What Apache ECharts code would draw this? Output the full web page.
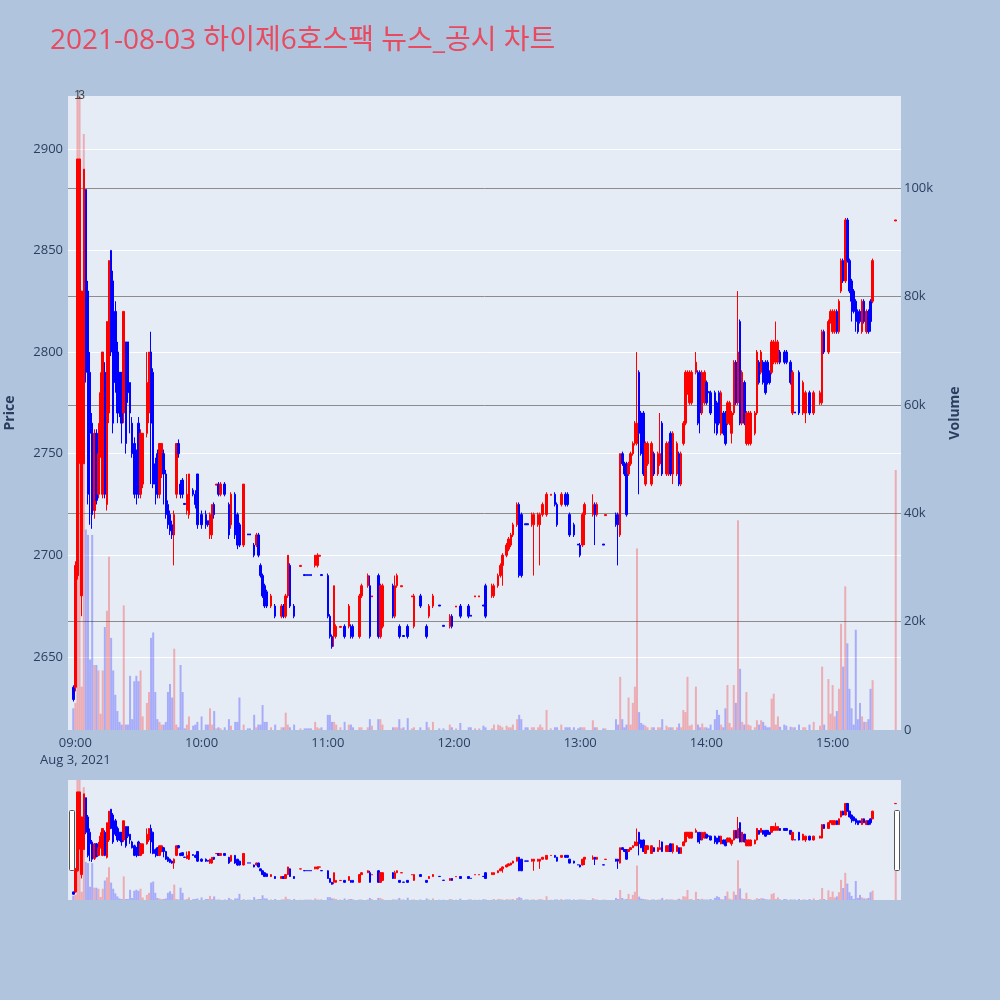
<!DOCTYPE html>
<html><head><meta charset="utf-8">
<script src="https://cdn.jsdelivr.net/npm/echarts@6/dist/echarts.min.js"></script>
<style>html,body{margin:0;padding:0;background:#b0c4de;}#c{width:1000px;height:1000px;}</style>
</head><body><div id="c"></div>
<script>
const times = [
'08:59','09:00','09:01','09:02','09:03','09:04','09:05','09:06','09:07','09:08',
'09:09','09:10','09:11','09:12','09:13','09:14','09:15','09:16','09:17','09:18',
'09:19','09:20','09:21','09:22','09:23','09:24','09:25','09:26','09:27','09:28',
'09:29','09:30','09:31','09:32','09:34','09:35','09:36','09:37','09:38','09:39',
'09:40','09:41','09:42','09:43','09:44','09:45','09:46','09:47','09:48','09:49',
'09:50','09:51','09:52','09:53','09:54','09:56','09:57','09:58','10:00','10:02',
'10:03','10:04','10:05','10:06','10:07','10:08','10:09','10:11','10:13','10:14',
'10:16','10:17','10:18','10:20','10:22','10:23','10:25','10:26','10:27','10:28',
'10:29','10:30','10:31','10:33','10:35','10:38','10:39','10:40','10:41','10:42',
'10:44','10:47','10:49','10:50','10:51','10:52','10:54','10:55','10:56','10:57',
'11:00','11:01','11:02','11:03','11:04','11:06','11:08','11:10','11:11','11:12',
'11:15','11:16','11:19','11:20','11:21','11:24','11:25','11:26','11:31','11:32',
'11:33','11:34','11:35','11:36','11:38','11:40','11:41','11:44','11:47','11:48',
'11:50','11:53','11:55','11:58','11:59','12:01','12:03','12:07','12:08','12:10',
'12:12','12:14','12:15','12:18','12:19','12:21','12:22','12:23','12:25','12:26',
'12:27','12:28','12:30','12:31','12:32','12:34','12:35','12:37','12:38','12:40',
'12:41','12:42','12:44','12:46','12:48','12:49','12:51','12:53','12:54','12:55',
'12:57','12:59','13:00','13:01','13:02','13:06','13:07','13:08','13:11','13:12',
'13:17','13:18','13:19','13:20','13:21','13:22','13:23','13:24','13:25','13:26',
'13:27','13:28','13:29','13:30','13:31','13:32','13:34','13:35','13:37','13:38',
'13:39','13:41','13:42','13:43','13:44','13:46','13:47','13:48','13:49','13:50',
'13:51','13:52','13:53','13:55','13:56','13:57','13:58','13:59','14:00','14:01',
'14:02','14:04','14:05','14:06','14:07','14:08','14:09','14:10','14:11','14:12',
'14:13','14:14','14:15','14:16','14:17','14:18','14:19','14:20','14:21','14:23',
'14:24','14:25','14:26','14:27','14:28','14:29','14:30','14:31','14:32','14:33',
'14:34','14:35','14:37','14:38','14:40','14:41','14:42','14:44','14:46','14:47',
'14:49','14:51','14:54','14:55','14:56','14:58','14:59','15:00','15:01','15:02',
'15:03','15:04','15:05','15:06','15:07','15:08','15:09','15:10','15:11','15:12',
'15:13','15:14','15:15','15:16','15:17','15:18','15:19','15:30'];

const opens = [
2635,2635,2690,2750,2680,2745,2880,2830,2790,2765,
2722,2760,2730,2750,2730,2790,2725,2770,2850,2835,
2820,2800,2790,2790,2770,2805,2805,2785,2765,2755,
2750,2765,2730,2735,2760,2770,2800,2790,2745,2750,
2730,2740,2750,2740,2725,2720,2715,2710,2730,2755,
2735,2737,2725.5,2722,2720,2732,2730,2740,2720,2720,
2717,2710,2710,2725,2734.5,2735,2730,2735,2725,2715,
2730,2720,2715,2705,2710.5,2710.5,2705,2705,2710,2695,
2690,2685,2682,2675,2675,2670,2675,2670,2680,2695,
2675,2694.5,2690.5,2690.5,2690.5,2690.5,2695,2695,2699.5,2690.5,
2690,2670,2660,2660,2660,2664.5,2665,2665,2665,2665,
2660,2680,2685,2685,2679.5,2690,2660,2665,2685,2670,
2685,2665,2684.5,2660.5,2665,2679.5,2665,2680,2665,2670,
2675,2675.5,2665.5,2665,2670,2674.5,2675,2675,2670.5,2679.5,
2679.5,2675.5,2685,2680,2680,2685,2690,2695,2700,2703,
2705,2710,2715,2725,2720,2715.5,2715.5,2715,2715,2715,
2715,2720,2720,2729.5,2730,2725,2725,2730,2730,2720,
2715,2705.5,2705,2705,2720,2720,2725,2720,2705.5,2719.5,
2720,2720,2710,2750,2745,2745,2740,2745,2750,2755,
2755,2790,2770,2770,2735,2745,2735,2750,2740,2745,
2765,2740,2740,2760,2740,2740,2750,2735,2755,2765,
2780,2775,2775,2790,2790,2790,2770,2775,2785,2780.5,
2780,2780,2775,2780,2760,2770,2770,2765,2765,2760,
2770,2795,2775,2815,2765,2785,2755,2755,2755,2760,
2770,2795,2790,2795,2795,2795,2790,2790,2795,2795,
2795,2800,2800,2800,2795,2770,2770.5,2790,2770,2770,
2780,2770,2775,2775,2810,2800,2815,2810,2810,2820,
2810,2830,2845,2835,2865,2845,2835,2830,2825,2820,
2820,2810,2825,2810,2820,2825,2825,2864.5];

const closes = [
2629,2695,2895,2895,2830,2890,2790,2730,2760,2720,
2760,2727,2750,2780,2800,2730,2815,2845,2800,2765,
2785,2770,2770,2765,2820,2755,2780,2770,2750,2730,
2735,2730,2760,2760,2785,2800,2765,2735,2735,2730,
2755,2755,2740,2720,2715,2712,2710,2720,2755,2750,
2730,2730,2725,2730,2740,2730,2725,2715,2715,2715,
2715,2720,2725,2720,2735,2730,2735,2730,2710,2730,
2710,2705,2705,2735,2710,2710,2700,2710,2700,2690,
2680,2675,2675,2680,2670,2675,2670,2680,2700,2675,
2670,2695,2690,2690,2690,2690,2700,2700,2700,2690,
2670,2660,2655,2685,2665,2665,2660,2675,2660,2660,
2680,2685,2690,2660,2680,2660,2685,2685,2670,2685,
2690,2660,2685,2660,2660,2680,2680,2675,2660,2675,
2680,2675,2665,2670,2665,2675,2670,2670,2670,2680,
2680,2675,2670,2685,2685,2690,2695,2700,2705,2708,
2710,2715,2725,2690,2690,2715,2715,2720,2720,2720,
2720,2725,2730,2730,2725,2715,2730,2725,2725,2710,
2710,2705,2700,2720,2725,2725,2720,2725,2705,2720,
2715,2715,2750,2745,2740,2720,2745,2750,2755,2765,
2765,2760,2750,2740,2755,2755,2755,2740,2750,2750,
2740,2755,2755,2740,2760,2755,2735,2750,2765,2790,
2790,2790,2790,2795,2765,2770,2790,2790,2775,2780,
2770,2765,2760,2765,2780,2760,2755,2775,2775,2770,
2795,2775,2800,2765,2790,2765,2770,2770,2770,2770,
2800,2785,2800,2785,2780,2785,2785,2805,2805,2805,
2805,2795,2795,2795,2785,2790,2770,2770,2785,2780,
2770,2780,2780,2810,2800,2815,2820,2820,2820,2810,
2825,2845,2835,2865,2845,2830,2825,2820,2815,2810,
2815,2825,2815,2820,2810,2815,2845,2865];

const lows = [
2628,2633,2688,2745,2670,2745,2785,2725,2715,2713,
2718,2725,2728,2748,2728,2728,2722,2765,2798,2760,
2780,2765,2768,2755,2765,2750,2775,2760,2748,2728,
2725,2728,2728,2733,2758,2765,2735,2733,2725,2728,
2728,2738,2725,2718,2713,2710,2708,2695,2728,2748,
2728,2728,2725,2720,2718,2729,2723,2713,2713,2713,
2714,2708,2708,2718,2734.5,2729,2729,2729,2708,2713,
2708,2703,2704,2704,2710,2710,2699,2704,2699,2689,
2679,2674,2674,2674,2669,2669,2669,2669,2679,2674,
2669,2694.5,2690,2690,2690,2690,2694,2694,2699.5,2690,
2669,2659,2654,2655,2659,2664.5,2659,2664,2659,2659,
2659,2679,2684,2659,2679.5,2659,2659,2664,2669,2669,
2684,2659,2684.5,2660,2659,2679.5,2664,2674,2659,2669,
2674,2675,2665,2664,2664,2674.5,2669,2669,2670,2679.5,
2679.5,2675,2669,2679,2679,2684,2689,2685,2699,2702,
2704,2709,2714,2689,2689,2715,2715,2714,2690,2714,
2695,2719,2719,2729.5,2724,2714,2724,2724,2724,2709,
2709,2705,2699,2704,2705,2719,2705,2719,2705,2719.5,
2714,2695,2709,2744,2739,2719,2739,2744,2749,2754,
2754,2730,2749,2739,2734,2744,2734,2739,2739,2744,
2739,2739,2739,2739,2735,2739,2734,2734,2754,2764,
2779,2774,2774,2789,2764,2760,2769,2774,2774,2780,
2769,2760,2759,2764,2759,2759,2754,2764,2764,2755,
2769,2774,2774,2764,2764,2764,2754,2754,2754,2759,
2769,2784,2789,2784,2779,2784,2784,2789,2794,2794,
2794,2794,2794,2794,2784,2769,2770,2769,2769,2765,
2769,2769,2774,2774,2799,2799,2814,2809,2809,2809,
2809,2829,2834,2834,2844,2829,2815,2819,2810,2809,
2814,2809,2814,2809,2809,2810,2824,2864.5];

const highs = [
2636,2697,2895,2895,2830,2890,2880,2835,2800,2770,
2762,2762,2765,2790,2800,2795,2815,2845,2850,2840,
2825,2805,2790,2790,2820,2805,2805,2785,2768,2758,
2752,2768,2762,2760,2800,2800,2810,2792,2748,2752,
2755,2755,2752,2742,2727,2722,2717,2722,2755,2757,
2737,2738,2725.5,2740,2740,2733,2732,2740,2722,2722,
2717,2721,2725,2726,2735,2736,2736,2736,2726,2731,
2731,2721,2716,2735,2710.5,2710.5,2706,2711,2711,2696,
2691,2686,2683,2681,2676,2676,2676,2681,2700,2696,
2676,2695,2690.5,2690.5,2690.5,2690.5,2700,2701,2700,2690.5,
2691,2671,2661,2685,2666,2665,2666,2676,2666,2666,
2681,2686,2691,2690,2680,2691,2686,2686,2686,2690,
2691,2666,2685,2660.5,2666,2680,2681,2681,2666,2676,
2681,2675.5,2665.5,2671,2671,2675,2676,2676,2670.5,2680,
2680,2675.5,2686,2686,2686,2691,2696,2701,2706,2709,
2711,2716,2726,2726,2721,2715.5,2715.5,2721,2721,2721,
2721,2726,2731,2730,2731,2726,2731,2731,2731,2721,
2716,2705.5,2706,2721,2726,2730,2726,2726,2705.5,2720,
2721,2721,2750,2751,2746,2746,2746,2751,2756,2766,
2800,2791,2771,2771,2756,2756,2756,2751,2751,2770,
2766,2756,2756,2761,2761,2756,2751,2751,2766,2791,
2791,2791,2791,2800,2791,2791,2791,2791,2786,2780.5,
2781,2781,2776,2781,2781,2771,2771,2776,2776,2771,
2796,2796,2830,2816,2791,2786,2771,2771,2771,2771,
2801,2796,2801,2796,2796,2796,2791,2806,2806,2815,
2806,2801,2801,2801,2796,2791,2770.5,2791,2786,2781,
2781,2781,2781,2811,2811,2816,2821,2821,2821,2821,
2826,2846,2846,2866,2866,2846,2836,2831,2826,2821,
2821,2826,2826,2821,2821,2826,2846,2865];

const volumes = [
4000,5000,125000,125000,8000,110000,37000,36000,13000,36000,
12000,12000,11000,3000,11000,19000,22000,32000,17000,11000,
6500,3500,1500,1000,23000,1000,1000,10000,2000,9000,
10000,9000,11000,2500,5000,7000,17000,18000,7000,2000,
1500,1000,1000,1500,7000,8500,6000,15000,1000,500,
12000,7000,300,1000,2500,800,1000,1500,2500,1000,
1000,4000,1000,3500,300,500,300,500,2000,800,
1500,1500,6000,1000,300,300,2800,500,1000,1000,
4600,1500,1500,500,1000,500,500,3200,1000,500,
1000,300,300,300,300,300,1500,500,300,500,
2800,2800,1500,1500,1000,500,1500,1000,1000,500,
500,500,500,2000,800,2000,2000,1000,500,500,
500,2000,300,500,2200,300,500,500,1500,500,
1500,300,300,1000,500,300,1300,500,500,300,
300,800,500,300,1000,1000,800,500,800,500,
500,1000,2000,2800,2000,500,500,500,500,500,
1000,500,3700,300,500,500,1000,500,500,500,
500,300,500,500,500,1800,500,500,300,300,
2000,1000,9800,2000,500,1000,6000,1000,5000,8000,
33500,3300,1300,1000,800,500,500,500,500,500,
2000,800,500,500,500,500,1200,500,3700,3300,
9800,800,1000,8000,1000,500,1200,500,500,300,
1000,2000,3700,2800,1000,500,4000,8300,1300,500,
8300,5000,38700,11300,1500,1000,7000,1000,800,500,
1800,1000,1800,1500,800,500,500,5800,6700,1000,
2500,600,1000,800,600,500,500,1000,500,500,
1000,1500,800,11700,1000,9400,3000,8300,2500,3500,
7600,19600,11700,26500,16000,7600,4000,1000,18500,2000,
5000,2500,1500,1500,2000,7600,9200,48000];

// axis / labels
const axisStart = '08:57', axisEnd = '15:32';
const hourLabels = ['09:00','10:00','11:00','12:00','13:00','14:00','15:00'];
const dateLabel = 'Aug 3, 2021';
const annotTimes = ['09:01','09:03'];
const annotTexts = ['1','3'];
const priceRange = [2614, 2926];
const volumeRange = [0, 117000];

function toMin(t){const p=t.split(':');return (+p[0])*60+(+p[1]);}
function fmt(n){const h=Math.floor(n/60),m=n%60;return (h<10?'0':'')+h+':'+(m<10?'0':'')+m;}
const cats=[];
for(let t=toMin(axisStart);t<=toMin(axisEnd);t++) cats.push(fmt(t));
const idx={}; cats.forEach((c,i)=>idx[c]=i);
const kData=cats.map(()=>['-','-','-','-']);
const vData=cats.map(()=>'-');
const UP='#ff0000', DOWN='#0000ff';
times.forEach((t,i)=>{
  const up=closes[i]>=opens[i];
  kData[idx[t]]=[opens[i],closes[i],lows[i],highs[i]];
  vData[idx[t]]={value:volumes[i],itemStyle:{color:up?'rgba(255,0,0,0.27)':'rgba(0,0,255,0.27)'}};
});

const txt='#2a3f5f';
const FF="'Open Sans',sans-serif";
const chart=echarts.init(document.getElementById('c'),null,{renderer:'canvas'});
chart.setOption({
  animation:false,
  backgroundColor:'#b0c4de',
  title:{text:'2021-08-03 하이제6호스팩 뉴스_공시 차트',left:45,top:22,
    textStyle:{fontSize:28,fontWeight:'normal',color:'#e84a5f',fontFamily:"'Open Sans','Noto Sans CJK KR',sans-serif"}},
  grid:[
    {left:68,top:96,width:833,height:634,show:true,backgroundColor:'#e5ecf6',borderWidth:0,outerBoundsMode:'none',containLabel:false},
    {left:68,top:780,width:833,height:120,show:true,backgroundColor:'#e5ecf6',borderWidth:0,outerBoundsMode:'none',containLabel:false}
  ],
  xAxis:[
    {type:'category',gridIndex:0,data:cats,boundaryGap:true,
     axisLine:{show:false},axisTick:{show:false},splitLine:{show:false},
     axisLabel:{interval:(i,v)=>hourLabels.indexOf(v)>=0,
       formatter:v=>v===hourLabels[0]?v+'\n'+dateLabel:v,
       color:txt,fontSize:13,margin:5,lineHeight:17,fontFamily:FF}},
    {type:'category',gridIndex:1,data:cats,boundaryGap:true,show:false}
  ],
  yAxis:[
    {type:'value',gridIndex:0,position:'left',min:priceRange[0],max:priceRange[1],splitNumber:5,
     axisLine:{show:false},axisTick:{show:false},
     axisLabel:{color:txt,fontSize:13,margin:5,showMinLabel:false,showMaxLabel:false,fontFamily:FF,formatter:v=>String(v)},
     splitLine:{show:true,showMinLine:false,showMaxLine:false,lineStyle:{color:'#ffffff',width:1}},
     name:'Price',nameLocation:'middle',nameGap:51,
     nameTextStyle:{color:txt,fontSize:14,fontWeight:'bold',fontFamily:FF}},
    {type:'value',gridIndex:0,position:'right',min:volumeRange[0],max:volumeRange[1],splitNumber:5,
     axisLine:{show:false},axisTick:{show:false},
     axisLabel:{color:txt,fontSize:13,margin:3,showMaxLabel:false,fontFamily:FF,
       formatter:v=>v===0?'0':(v/1000)+'k'},
     splitLine:{show:true,showMinLine:false,showMaxLine:false,lineStyle:{color:'#8c8c8c',width:1}},
     name:'Volume',nameLocation:'middle',nameGap:47,
     nameTextStyle:{color:txt,fontSize:14,fontWeight:'bold',fontFamily:FF}},
    {type:'value',gridIndex:1,min:priceRange[0],max:priceRange[1],show:false,splitLine:{show:false}},
    {type:'value',gridIndex:1,min:volumeRange[0],max:volumeRange[1],show:false,splitLine:{show:false}}
  ],
  series:[
    {type:'bar',name:'Volume',xAxisIndex:0,yAxisIndex:1,data:vData,barWidth:2,z:1,
     markPoint:{symbol:'rect',symbolSize:[1,1],itemStyle:{color:'rgba(0,0,0,0)'},
       label:{show:true,position:'inside',color:'#444',fontSize:12,formatter:p=>p.value},
       data:annotTimes.map((t,i)=>({coord:[t,volumeRange[1]],value:annotTexts[i]}))}},
    {type:'candlestick',name:'Price',xAxisIndex:0,yAxisIndex:0,data:kData,barWidth:2,z:3,
     itemStyle:{color:UP,color0:DOWN,borderColor:UP,borderColor0:DOWN,borderWidth:1}},
    {type:'bar',xAxisIndex:1,yAxisIndex:3,data:vData,barWidth:2,z:1},
    {type:'candlestick',xAxisIndex:1,yAxisIndex:2,data:kData,barWidth:2,z:3,
     itemStyle:{color:UP,color0:DOWN,borderColor:UP,borderColor0:DOWN,borderWidth:1}}
  ],
  graphic:[
    {type:'rect',left:69,top:810,shape:{width:5,height:60,r:1},style:{fill:'#fff',stroke:'#555',lineWidth:1},z:100},
    {type:'rect',left:894,top:810,shape:{width:5,height:60,r:1},style:{fill:'#fff',stroke:'#555',lineWidth:1},z:100}
  ]
});
</script></body></html>
